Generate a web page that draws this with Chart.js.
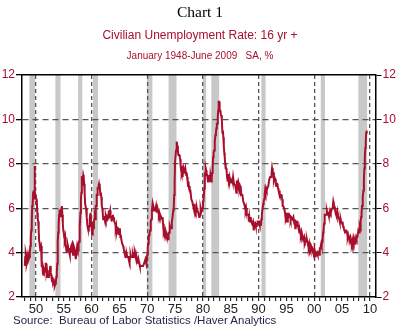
<!DOCTYPE html>
<html>
<head>
<meta charset="utf-8">
<script src="https://cdn.jsdelivr.net/npm/chart.js@4.4.0/dist/chart.umd.min.js"></script>
<style>
  body { margin: 0; background: #fff; }
  #wrap { position: relative; width: 400px; height: 331px; }
  canvas { position: absolute; left: 0; top: 0; }
  .t { position: absolute; left: 0; width: 400px; text-align: center; white-space: pre; }
  #t1 { top: 3px; font: 15.5px "Liberation Serif", "Times New Roman", serif; color: #000; }
  #t2 { top: 28px; font: 12px "Liberation Sans", Arial, sans-serif; color: #a8102e; }
  #t3 { top: 50px; font: 10px "Liberation Sans", Arial, sans-serif; color: #a8102e; }
  #src { position: absolute; left: 13px; top: 314px; font: 11.5px "Liberation Sans", Arial, sans-serif; color: #1c2340; white-space: pre; }
</style>
</head>
<body>
<div id="wrap">
  <canvas id="c" width="400" height="331"></canvas>
  <div class="t" id="t1">Chart 1</div>
  <div class="t" id="t2">Civilian Unemployment Rate: 16 yr +</div>
  <div class="t" id="t3">January 1948-June 2009   SA, %</div>
  <div id="src">Source:  Bureau of Labor Statistics /Haver Analytics</div>
</div>
<script>
// monthly rate, one row per year starting 1948
const startYear = 1948;
const rates = [
  [3.4, 3.8, 4.0, 3.9, 3.5, 3.6, 3.6, 3.9, 3.8, 3.7, 3.8, 4.0],
  [4.3, 4.7, 5.0, 5.3, 6.1, 6.2, 6.7, 6.8, 6.6, 7.9, 6.4, 6.6],
  [6.5, 6.4, 6.3, 5.8, 5.5, 5.4, 5.0, 4.5, 4.4, 4.2, 4.2, 4.3],
  [3.7, 3.4, 3.4, 3.1, 3.0, 3.2, 3.1, 3.1, 3.3, 3.5, 3.5, 3.1],
  [3.2, 3.1, 2.9, 2.9, 3.0, 3.0, 3.2, 3.4, 3.1, 3.0, 2.8, 2.7],
  [2.9, 2.6, 2.6, 2.7, 2.5, 2.5, 2.6, 2.7, 2.9, 3.1, 3.5, 4.5],
  [4.9, 5.2, 5.7, 5.9, 5.9, 5.6, 5.8, 6.0, 6.1, 5.7, 5.3, 5.0],
  [4.9, 4.7, 4.6, 4.7, 4.3, 4.2, 4.0, 4.2, 4.1, 4.3, 4.2, 4.2],
  [4.0, 3.9, 4.2, 4.0, 4.3, 4.3, 4.4, 4.1, 3.9, 3.9, 4.3, 4.2],
  [4.2, 3.9, 3.7, 3.9, 4.1, 4.3, 4.2, 4.1, 4.4, 4.5, 5.1, 5.2],
  [5.8, 6.4, 6.7, 7.4, 7.4, 7.3, 7.5, 7.4, 7.1, 6.7, 6.2, 6.2],
  [6.0, 5.9, 5.6, 5.2, 5.1, 5.0, 5.1, 5.2, 5.5, 5.7, 5.8, 5.3],
  [5.2, 4.8, 5.4, 5.2, 5.1, 5.4, 5.5, 5.6, 5.5, 6.1, 6.1, 6.6],
  [6.6, 6.9, 6.9, 7.0, 7.1, 6.9, 7.0, 6.6, 6.7, 6.5, 6.1, 6.0],
  [5.8, 5.5, 5.6, 5.6, 5.5, 5.5, 5.4, 5.7, 5.6, 5.4, 5.7, 5.5],
  [5.7, 5.9, 5.7, 5.7, 5.9, 5.6, 5.6, 5.4, 5.5, 5.5, 5.7, 5.5],
  [5.6, 5.4, 5.4, 5.3, 5.1, 5.2, 4.9, 5.0, 5.1, 5.1, 4.8, 5.0],
  [4.9, 5.1, 4.7, 4.8, 4.6, 4.6, 4.4, 4.4, 4.3, 4.2, 4.1, 4.0],
  [4.0, 3.8, 3.8, 3.8, 3.9, 3.8, 3.8, 3.8, 3.7, 3.7, 3.6, 3.8],
  [3.9, 3.8, 3.8, 3.8, 3.8, 3.9, 3.8, 3.8, 3.8, 4.0, 3.9, 3.8],
  [3.7, 3.8, 3.7, 3.5, 3.5, 3.7, 3.7, 3.5, 3.4, 3.4, 3.4, 3.4],
  [3.4, 3.4, 3.4, 3.4, 3.4, 3.5, 3.5, 3.5, 3.7, 3.7, 3.5, 3.5],
  [3.9, 4.2, 4.4, 4.6, 4.8, 4.9, 5.0, 5.1, 5.4, 5.5, 5.9, 6.1],
  [5.9, 5.9, 6.0, 5.9, 5.9, 5.9, 6.0, 6.1, 6.0, 5.8, 6.0, 6.0],
  [5.8, 5.7, 5.8, 5.7, 5.7, 5.7, 5.6, 5.6, 5.5, 5.6, 5.3, 5.2],
  [4.9, 5.0, 4.9, 5.0, 4.9, 4.9, 4.8, 4.8, 4.8, 4.6, 4.8, 4.9],
  [5.1, 5.2, 5.1, 5.1, 5.1, 5.4, 5.5, 5.5, 5.9, 6.0, 6.6, 7.2],
  [8.1, 8.1, 8.6, 8.8, 9.0, 8.8, 8.6, 8.4, 8.4, 8.4, 8.3, 8.2],
  [7.9, 7.7, 7.6, 7.7, 7.4, 7.6, 7.8, 7.8, 7.6, 7.7, 7.8, 7.8],
  [7.5, 7.6, 7.4, 7.2, 7.0, 7.2, 6.9, 7.0, 6.8, 6.8, 6.8, 6.4],
  [6.4, 6.3, 6.3, 6.1, 6.0, 5.9, 6.2, 5.9, 6.0, 5.8, 5.9, 6.0],
  [5.9, 5.9, 5.8, 5.8, 5.6, 5.7, 5.7, 6.0, 5.9, 6.0, 5.9, 6.0],
  [6.3, 6.3, 6.3, 6.9, 7.5, 7.6, 7.8, 7.7, 7.5, 7.5, 7.5, 7.2],
  [7.5, 7.4, 7.4, 7.2, 7.5, 7.5, 7.2, 7.4, 7.6, 7.9, 8.3, 8.5],
  [8.6, 8.9, 9.0, 9.3, 9.4, 9.6, 9.8, 9.8, 10.1, 10.4, 10.8, 10.8],
  [10.4, 10.4, 10.3, 10.2, 10.1, 10.1, 9.4, 9.5, 9.2, 8.8, 8.5, 8.3],
  [8.0, 7.8, 7.8, 7.7, 7.4, 7.2, 7.5, 7.5, 7.3, 7.4, 7.2, 7.3],
  [7.3, 7.2, 7.2, 7.3, 7.2, 7.4, 7.4, 7.1, 7.1, 7.1, 7.0, 7.0],
  [6.7, 7.2, 7.2, 7.1, 7.2, 7.2, 7.0, 6.9, 7.0, 7.0, 6.9, 6.6],
  [6.6, 6.6, 6.6, 6.3, 6.3, 6.2, 6.1, 6.0, 5.9, 6.0, 5.8, 5.7],
  [5.7, 5.7, 5.7, 5.4, 5.6, 5.4, 5.4, 5.6, 5.4, 5.4, 5.3, 5.3],
  [5.4, 5.2, 5.0, 5.2, 5.2, 5.3, 5.2, 5.2, 5.3, 5.3, 5.4, 5.4],
  [5.4, 5.3, 5.2, 5.4, 5.4, 5.2, 5.5, 5.7, 5.9, 5.9, 6.2, 6.3],
  [6.4, 6.6, 6.8, 6.7, 6.9, 6.9, 6.8, 6.9, 6.9, 7.0, 7.0, 7.3],
  [7.3, 7.4, 7.4, 7.4, 7.6, 7.8, 7.7, 7.6, 7.6, 7.3, 7.4, 7.4],
  [7.3, 7.1, 7.0, 7.1, 7.1, 7.0, 6.9, 6.8, 6.7, 6.8, 6.6, 6.5],
  [6.6, 6.6, 6.5, 6.4, 6.1, 6.1, 6.1, 6.0, 5.9, 5.8, 5.6, 5.5],
  [5.6, 5.4, 5.4, 5.8, 5.6, 5.6, 5.7, 5.7, 5.6, 5.5, 5.6, 5.6],
  [5.6, 5.5, 5.5, 5.6, 5.6, 5.3, 5.5, 5.1, 5.2, 5.2, 5.4, 5.4],
  [5.3, 5.2, 5.2, 5.1, 4.9, 5.0, 4.9, 4.8, 4.9, 4.7, 4.6, 4.7],
  [4.6, 4.6, 4.7, 4.3, 4.4, 4.5, 4.5, 4.5, 4.6, 4.5, 4.4, 4.4],
  [4.3, 4.4, 4.2, 4.3, 4.2, 4.3, 4.3, 4.2, 4.2, 4.1, 4.1, 4.0],
  [4.0, 4.1, 4.0, 3.8, 4.0, 4.0, 4.0, 4.1, 3.9, 3.9, 3.9, 3.9],
  [4.2, 4.2, 4.3, 4.4, 4.3, 4.5, 4.6, 4.9, 5.0, 5.3, 5.5, 5.7],
  [5.7, 5.7, 5.7, 5.9, 5.8, 5.8, 5.8, 5.7, 5.7, 5.7, 5.9, 6.0],
  [5.8, 5.9, 5.9, 6.0, 6.1, 6.3, 6.2, 6.1, 6.1, 6.0, 5.8, 5.7],
  [5.7, 5.6, 5.8, 5.6, 5.6, 5.6, 5.5, 5.4, 5.4, 5.5, 5.4, 5.4],
  [5.3, 5.4, 5.2, 5.2, 5.1, 5.0, 5.0, 4.9, 5.0, 5.0, 5.0, 4.9],
  [4.7, 4.8, 4.7, 4.7, 4.6, 4.6, 4.7, 4.7, 4.5, 4.4, 4.5, 4.4],
  [4.6, 4.5, 4.4, 4.5, 4.4, 4.6, 4.7, 4.6, 4.7, 4.7, 4.7, 5.0],
  [5.0, 4.9, 5.1, 5.0, 5.4, 5.6, 5.8, 6.1, 6.1, 6.5, 6.8, 7.3],
  [7.8, 8.3, 8.7, 9.0, 9.4, 9.5]
];

// recession periods (decimal years)
const recStart = [1948.83, 1953.5, 1957.58, 1960.25, 1969.92, 1973.83, 1980.0, 1981.5, 1990.5, 2001.17, 2007.92];
const recEnd   = [1949.83, 1954.42, 1958.33, 1961.17, 1970.92, 1975.25, 1980.58, 1982.92, 1991.25, 2001.92, 2009.5];

const yTicks = [2, 4, 6, 8, 10, 12];

const points = [];
rates.forEach((row, i) => {
  row.forEach((v, m) => points.push({ x: startYear + i + m / 12, y: v }));
});

const RED = '#a8102e';
const FONT = { family: '"Liberation Sans", Arial, sans-serif', size: 12 };

const recessions = {
  id: 'recessions',
  beforeDraw(chart) {
    const { ctx, chartArea, scales } = chart;
    ctx.save();
    ctx.fillStyle = '#c8c8c8';
    recStart.forEach((s, i) => {
      const x0 = scales.x.getPixelForValue(s);
      const x1 = scales.x.getPixelForValue(recEnd[i]);
      ctx.fillRect(x0, chartArea.top, x1 - x0, chartArea.bottom - chartArea.top);
    });
    ctx.restore();
  }
};

new Chart(document.getElementById('c'), {
  type: 'line',
  data: {
    datasets: [{
      data: points,
      borderColor: '#a80f2c',
      borderWidth: 2,
      pointRadius: 0,
      tension: 0,
      yAxisID: 'y'
    }]
  },
  options: {
    responsive: false,
    animation: false,
    layout: { padding: 0 },
    plugins: { legend: { display: false }, tooltip: { enabled: false } },
    scales: {
      x: {
        type: 'linear',
        position: 'bottom',
        min: 1947.5,
        max: 2011,
        afterFit: s => { s.height = 34; },
        afterBuildTicks: s => {
          const t = [];
          for (let yr = 1948; yr <= 2010; yr++) t.push({ value: yr });
          s.ticks = t;
        },
        ticks: {
          autoSkip: false,
          maxRotation: 0,
          padding: 1,
          color: '#222',
          font: { family: FONT.family, size: 13 },
          callback: v => (v % 5 === 0 ? String(v % 100).padStart(2, '0') : '')
        },
        grid: {
          color: c => (c.tick && c.tick.value % 10 === 0 ? '#555' : 'rgba(0,0,0,0)'),
          lineWidth: 1.3,
          tickColor: '#000',
          tickLength: 4,
          tickWidth: 1
        },
        border: { color: '#000', width: 1.5, dash: [4, 3] }
      },
      x2: {
        type: 'linear',
        position: 'top',
        min: 1947.5,
        max: 2011,
        afterFit: s => { s.height = 75; },
        ticks: { display: false },
        grid: { display: false },
        border: { color: '#000', width: 1.5 }
      },
      y: {
        position: 'left',
        min: 2,
        max: 12,
        afterFit: s => { s.width = 22; },
        afterBuildTicks: s => { s.ticks = yTicks.map(v => ({ value: v })); },
        ticks: { color: RED, font: FONT, padding: 1 },
        grid: {
          color: c => (c.tick && c.tick.value > 2 && c.tick.value < 12 ? '#555' : 'rgba(0,0,0,0)'),
          lineWidth: 1.3,
          tickColor: '#000',
          tickLength: 6,
          tickBorderDash: []
        },
        border: { color: '#000', width: 1.5, dash: [6, 4] }
      },
      y2: {
        position: 'right',
        min: 2,
        max: 12,
        afterFit: s => { s.width = 24.5; },
        afterBuildTicks: s => { s.ticks = yTicks.map(v => ({ value: v })); },
        ticks: { color: RED, font: FONT, padding: 1 },
        grid: { drawOnChartArea: false, tickColor: '#000', tickLength: 6 },
        border: { color: '#000', width: 1.5 }
      }
    }
  },
  plugins: [recessions]
});
</script>
</body>
</html>
